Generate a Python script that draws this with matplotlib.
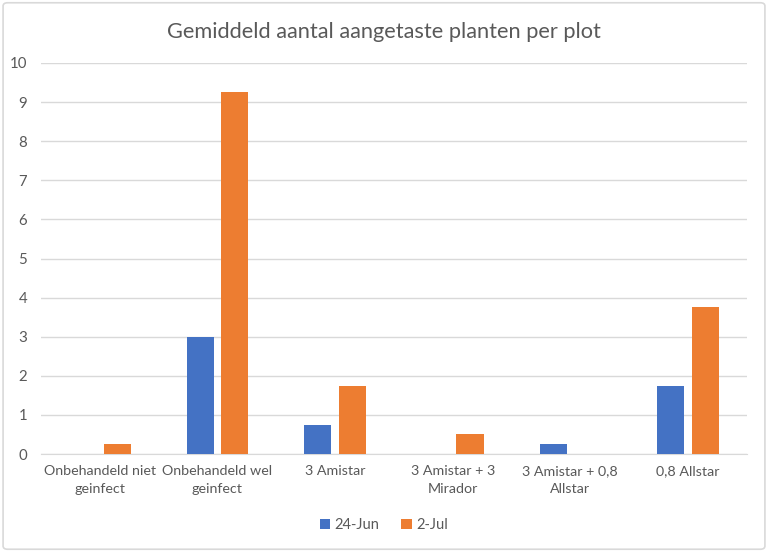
import matplotlib
matplotlib.use("Agg")
import matplotlib.pyplot as plt
import numpy as np
from matplotlib.patches import FancyBboxPatch

categories = ["Onbehandeld niet\ngeinfect", "Onbehandeld wel\ngeinfect", "3 Amistar",
              "3 Amistar + 3\nMirador", "3 Amistar + 0,8\nAllstar", "0,8 Allstar"]
series_names = ["24-Jun", "2-Jul"]
jun24 = [0, 3, 0.75, 0, 0.25, 1.75]
jul2 = [0.25, 9.25, 1.75, 0.5, 0, 3.75]
colors = ["#4472C4", "#ED7D31"]

plt.rcParams['font.family'] = ['Lato', 'DejaVu Sans']

fig = plt.figure(figsize=(7.68, 5.52), dpi=100)
border = FancyBboxPatch((0.004, 0.005), 0.992, 0.99, boxstyle="round,pad=0,rounding_size=0.006",
                        transform=fig.transFigure, facecolor="none", edgecolor="#D9D9D9",
                        linewidth=1.2, zorder=-1)
fig.patches.append(border)

ax = fig.add_axes([0.0534, 0.1775, 0.919, 0.7084])
ax.set_facecolor("none")
x = np.arange(len(categories))
w = 0.23
off = 0.147
ax.bar(x - off, jun24, w, color=colors[0], label=series_names[0], zorder=3)
ax.bar(x + off, jul2, w, color=colors[1], label=series_names[1], zorder=3)

ax.set_xlim(-0.5, len(categories) - 0.5)
ax.set_ylim(0, 10)
ax.set_yticks(range(0, 11))
ax.yaxis.grid(True, color="#D9D9D9", linewidth=1, zorder=0)
for s in ["top", "right", "left"]:
    ax.spines[s].set_visible(False)
ax.spines["bottom"].set_color("#D9D9D9")
ax.tick_params(axis="both", length=0, labelcolor="#595959")
ax.tick_params(axis="y", pad=10, labelsize=10.8)
ax.tick_params(axis="x", pad=8, labelsize=10.3)
ax.set_xticks(x)
ax.set_xticklabels(categories, linespacing=1.55)

fig.text(0.5, 0.942, "Gemiddeld aantal aangetaste planten per plot", ha="center", va="center",
         fontsize=15.7, color="#595959")

leg = fig.legend(loc="center", bbox_to_anchor=(0.5, 0.049), ncol=2, frameon=False,
                 fontsize=10.5, handlelength=0.7, handleheight=0.7, handletextpad=0.3,
                 columnspacing=1.5, labelcolor="#595959")

fig.savefig("out.png", dpi=100)
